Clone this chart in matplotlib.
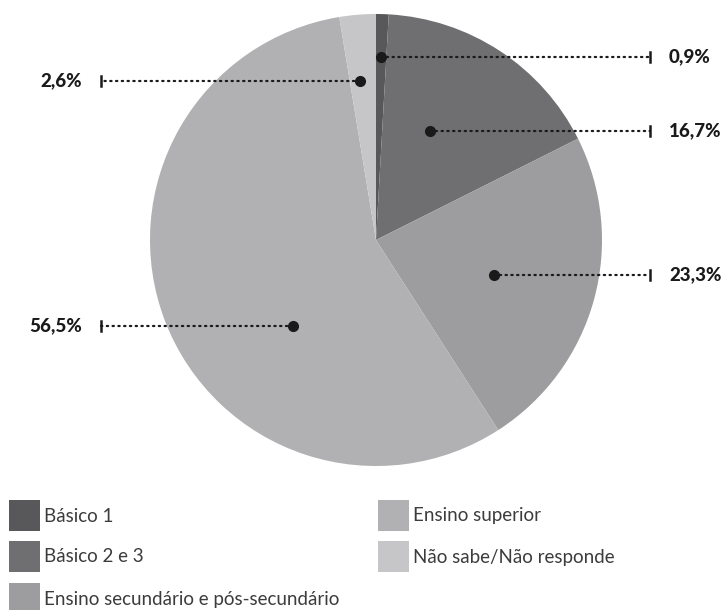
import matplotlib
matplotlib.use('Agg')
import matplotlib.pyplot as plt
import numpy as np

categories = ['Básico 1', 'Básico 2 e 3', 'Ensino secundário e pós-secundário',
              'Ensino superior', 'Não sabe/Não responde']
values = [0.9, 16.7, 23.3, 56.5, 2.6]
labels = ['0,9%', '16,7%', '23,3%', '56,5%', '2,6%']
colors = ['#58585a', '#6f6f71', '#9d9d9f', '#b1b1b3', '#c6c6c8']

# pie geometry in pixels (y grows downward)
cx, cy, R = 376, 240, 226
# dot offsets in radius units, side of the label
dots = [(0.022, -0.81), (0.239, -0.482), (0.522, 0.155), (-0.367, 0.381), (-0.071, -0.704)]
sides = ['right', 'right', 'right', 'left', 'left']

fig = plt.figure(figsize=(7.28, 6.10), dpi=100)
ax = fig.add_axes([0, 0, 1, 1])

ax.pie(values, colors=colors, startangle=-90, counterclock=True,
       center=(cx, cy), radius=R, wedgeprops=dict(linewidth=0))

for (dx, dy), lab, side in zip(dots, labels, sides):
    x0, y0 = cx + dx * R, cy + dy * R
    xe = 650 if side == 'right' else 101
    ax.plot([x0, xe], [y0, y0], color='#1a1a1a', lw=1.6, ls=(0, (0.6, 2.0)),
            dash_capstyle='round', zorder=4)
    ax.plot([xe, xe], [y0 - 5, y0 + 5], color='#1a1a1a', lw=1.8, zorder=4)
    ax.plot(x0, y0, 'o', color='#1a1a1a', ms=7, zorder=5)
    if side == 'right':
        ax.text(669, y0, lab, ha='left', va='center', fontsize=13.5,
                fontweight='black', family='Lato', color='#1a1a1a')
    else:
        ax.text(82, y0, lab, ha='right', va='center', fontsize=13.5,
                fontweight='black', family='Lato', color='#1a1a1a')

# legend
leg_pos = [(9, 500), (9, 541), (9, 583), (378, 500), (378, 541)]
for (lx, ly), name, c in zip(leg_pos, categories, colors):
    ax.add_patch(plt.Rectangle((lx, ly), 31, 31, color=c, lw=0))
    ax.text(lx + 35, ly + 16, name, ha='left', va='center', fontsize=13.5,
            family='Lato', fontweight='normal', color='#3c3c3c')

ax.set_xlim(0, 728)
ax.set_ylim(610, 0)
ax.set_aspect('auto')
ax.axis('off')

plt.savefig('out.png', dpi=100)
plt.close()
